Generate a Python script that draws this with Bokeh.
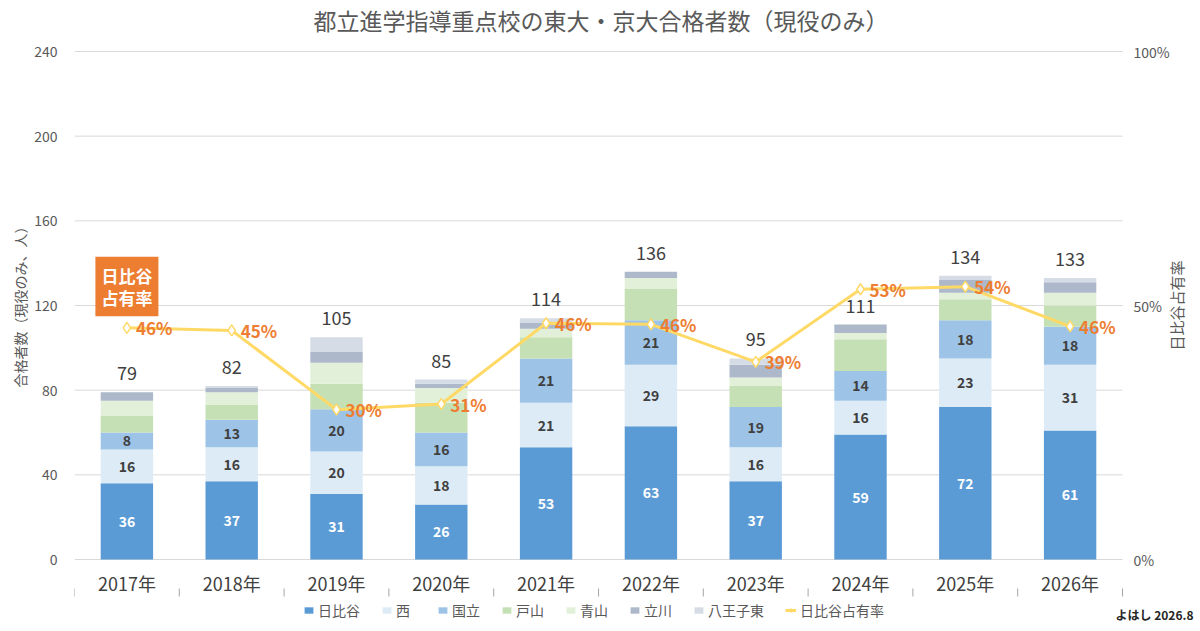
from math import pi
from bokeh.plotting import figure
from bokeh.models import (Range1d, FixedTicker, ColumnDataSource, Legend,
                          LegendItem, Label, Title)
from bokeh.embed import file_html
from bokeh.resources import INLINE
from bokeh.core.properties import value

# ---------------- data ----------------
years = ["2017年", "2018年", "2019年", "2020年", "2021年",
         "2022年", "2023年", "2024年", "2025年", "2026年"]
hibiya = [36, 37, 31, 26, 53, 63, 37, 59, 72, 61]
nishi = [16, 16, 20, 18, 21, 29, 16, 16, 23, 31]
kunitachi = [8, 13, 20, 16, 21, 21, 19, 14, 18, 18]
toyama = [8, 7, 12, 14, 10, 15, 10, 15, 10, 10]
aoyama = [7, 6, 10, 7, 4, 5, 4, 3, 3, 6]
tachikawa = [4, 2, 5, 2, 3, 3, 6, 4, 6, 5]
hachioji = [0, 1, 7, 2, 2, 0, 3, 0, 2, 2]
totals = [79, 82, 105, 85, 114, 136, 95, 111, 134, 133]
share = [45.6, 45.1, 29.5, 30.6, 46.5, 46.3, 38.9, 53.2, 53.7, 45.9]
share_labels = ["46%", "45%", "30%", "31%", "46%", "46%", "39%", "53%", "54%", "46%"]
school_names = ["日比谷", "西", "国立", "戸山", "青山", "立川", "八王子東"]
share_name = "日比谷占有率"
left_ticks = [0, 40, 80, 120, 160, 200, 240]
right_ticks = [0, 50, 100]
right_tick_labels = ["0%", "50%", "100%"]

title_text = "都立進学指導重点校の東大・京大合格者数（現役のみ）"
left_label = "合格者数（現役のみ、人）"
right_label = "日比谷占有率"
box_text = "日比谷\n占有率"
credit = "よはし 2026.8"

# ---------------- style / geometry ----------------
FONT = "Noto Sans CJK JP"
colors = ["#5B9BD5", "#DDEBF7", "#9DC3E6", "#C5E0B4", "#E2F0D9", "#ADB9CA", "#D6DCE5"]
LINE = "#FFD966"
ORANGE = "#ED7D31"
GRID = "#D9D9D9"
TXT = "#595959"
DARK = "#404040"

W, H = 1196, 622
BL, BT = 74, 40
PXX = 104.8            # pixels per category
PXY = 508 / 240        # pixels per student
LMAX = 240
TOP_GAP = 11           # px between frame top and the 240 line
n = len(years)
x_start = -0.5
x_end = x_start + (W - BL) / PXX
y_end = LMAX + TOP_GAP / PXY
y_start = y_end - (H - BT) / PXY
pct_start = y_start * 100 / LMAX
pct_end = y_end * 100 / LMAX

x = list(range(n))
keys = ["hibiya", "nishi", "kunitachi", "toyama", "aoyama", "tachikawa", "hachioji"]
series = [hibiya, nishi, kunitachi, toyama, aoyama, tachikawa, hachioji]
src = ColumnDataSource(dict(x=x, **{k: v for k, v in zip(keys, series)}))

p = figure(width=W, height=H, x_range=Range1d(x_start, x_end), y_range=Range1d(y_start, y_end),
           output_backend="svg", toolbar_location=None, x_axis_location=None,
           min_border_left=BL, min_border_right=0, min_border_top=BT, min_border_bottom=0)
p.outline_line_color = None
p.grid.visible = False
p.extra_y_ranges = {"pct": Range1d(pct_start, pct_end)}

# title
p.title.text = title_text
p.title.align = "left"
p.title.offset = 239
p.title.vertical_align = "top"
p.title.text_font = FONT
p.title.text_font_size = "23px"
p.title.text_font_style = "normal"
p.title.text_color = TXT
p.title.standoff = 4

# left axis
yax = p.left[0]
yax.ticker = FixedTicker(ticks=left_ticks)
yax.axis_line_color = None
yax.major_tick_line_color = None
yax.minor_tick_line_color = None
yax.major_tick_out = 0
yax.major_tick_in = 0
yax.minor_tick_out = 0
yax.major_label_text_font = FONT
yax.major_label_text_font_size = "14px"
yax.major_label_text_color = TXT
yax.major_label_standoff = 17

ltitle = Title(text=left_label, align="right", offset=168 + TOP_GAP, text_font=FONT,
               text_font_size="14px", text_font_style="normal", text_color=TXT, standoff=4)
p.add_layout(ltitle, "left")

# gridlines (only across the category area)
p.segment(x0=[-0.5] * len(left_ticks), x1=[n - 0.5] * len(left_ticks),
          y0=left_ticks, y1=left_ticks, line_color=GRID, line_width=1, level="underlay")

# category boundary ticks in the label row
bounds = [i - 0.5 for i in range(n + 1)]
p.segment(x0=bounds, x1=bounds, y0=[-29 / PXY] * len(bounds), y1=[-37 / PXY] * len(bounds),
          line_color="#A6A6A6", line_width=1)

# right "axis" labels
p.text([n - 0.5] * len(right_ticks), right_ticks, text=right_tick_labels, y_range_name="pct",
       x_offset=11, text_align="left", text_baseline="middle", text_color=TXT,
       text_font=value(FONT), text_font_size="14px")
p.text([n - 0.5], [50], text=[right_label], y_range_name="pct", x_offset=54, angle=pi / 2,
       text_align="center", text_baseline="middle", text_color=TXT,
       text_font=value(FONT), text_font_size="15px")

# category labels
p.text(x, [0] * n, text=years, y_offset=10, text_align="center", text_baseline="top",
       text_color=DARK, text_font=value(FONT), text_font_size="18px")

# stacked bars
bars = p.vbar_stack(keys, x="x", width=0.5, color=colors, line_color=None, source=src)

# segment labels (日比谷, 西, 国立)
y_h = [h / 2 for h in hibiya]
y_n = [h + v / 2 for h, v in zip(hibiya, nishi)]
y_k = [h + v + k / 2 for h, v, k in zip(hibiya, nishi, kunitachi)]
p.text(x, y_h, text=[str(v) for v in hibiya], text_align="center", text_baseline="middle",
       text_color="white", text_font=value(FONT), text_font_size="14px", text_font_style="bold")
p.text(x, y_n, text=[str(v) for v in nishi], text_align="center", text_baseline="middle",
       text_color=DARK, text_font=value(FONT), text_font_size="14px", text_font_style="bold")
p.text(x, y_k, text=[str(v) for v in kunitachi], text_align="center", text_baseline="middle",
       text_color=DARK, text_font=value(FONT), text_font_size="14px", text_font_style="bold")

# totals
p.text(x, totals, text=[str(t) for t in totals], y_offset=-12, text_align="center",
       text_baseline="bottom", text_color=DARK, text_font=value(FONT), text_font_size="18px")

# share line
line_r = p.line(x, share, y_range_name="pct", line_color=LINE, line_width=3)
scat_r = p.scatter(x, share, y_range_name="pct", marker="diamond", size=11,
                   fill_color="white", line_color=LINE, line_width=1.5)
p.text(x, share, text=share_labels, y_range_name="pct", x_offset=9, text_align="left",
       text_baseline="middle", text_color=ORANGE, text_font=value(FONT),
       text_font_size="17px", text_font_style="bold")

# legend
items = [LegendItem(label=nm, renderers=[r]) for nm, r in zip(school_names, bars)]
items.append(LegendItem(label=share_name, renderers=[line_r, scat_r]))
legend = Legend(items=items, orientation="horizontal", location=(229, 2),
                glyph_width=11, glyph_height=8, label_standoff=4, spacing=21,
                padding=2, margin=0, border_line_color=None, background_fill_alpha=0,
                label_text_font=FONT, label_text_font_size="14px", label_text_color=TXT,
                label_height=14)
p.add_layout(legend)

# annotations
p.add_layout(Label(x=0, y=129, text=box_text, text_align="center", text_baseline="middle",
                   text_color="white", text_font=FONT, text_font_size="17px",
                   text_font_style="bold", background_fill_color=ORANGE, padding=6,
                   text_line_height=0.9))
p.add_layout(Label(x=x_end, y=-26, x_offset=-3, text=credit, text_align="right",
                   text_baseline="middle", text_color="#262626", text_font=FONT,
                   text_font_size="12px", text_font_style="bold"))

open("out.html", "w").write(file_html(p, INLINE))
